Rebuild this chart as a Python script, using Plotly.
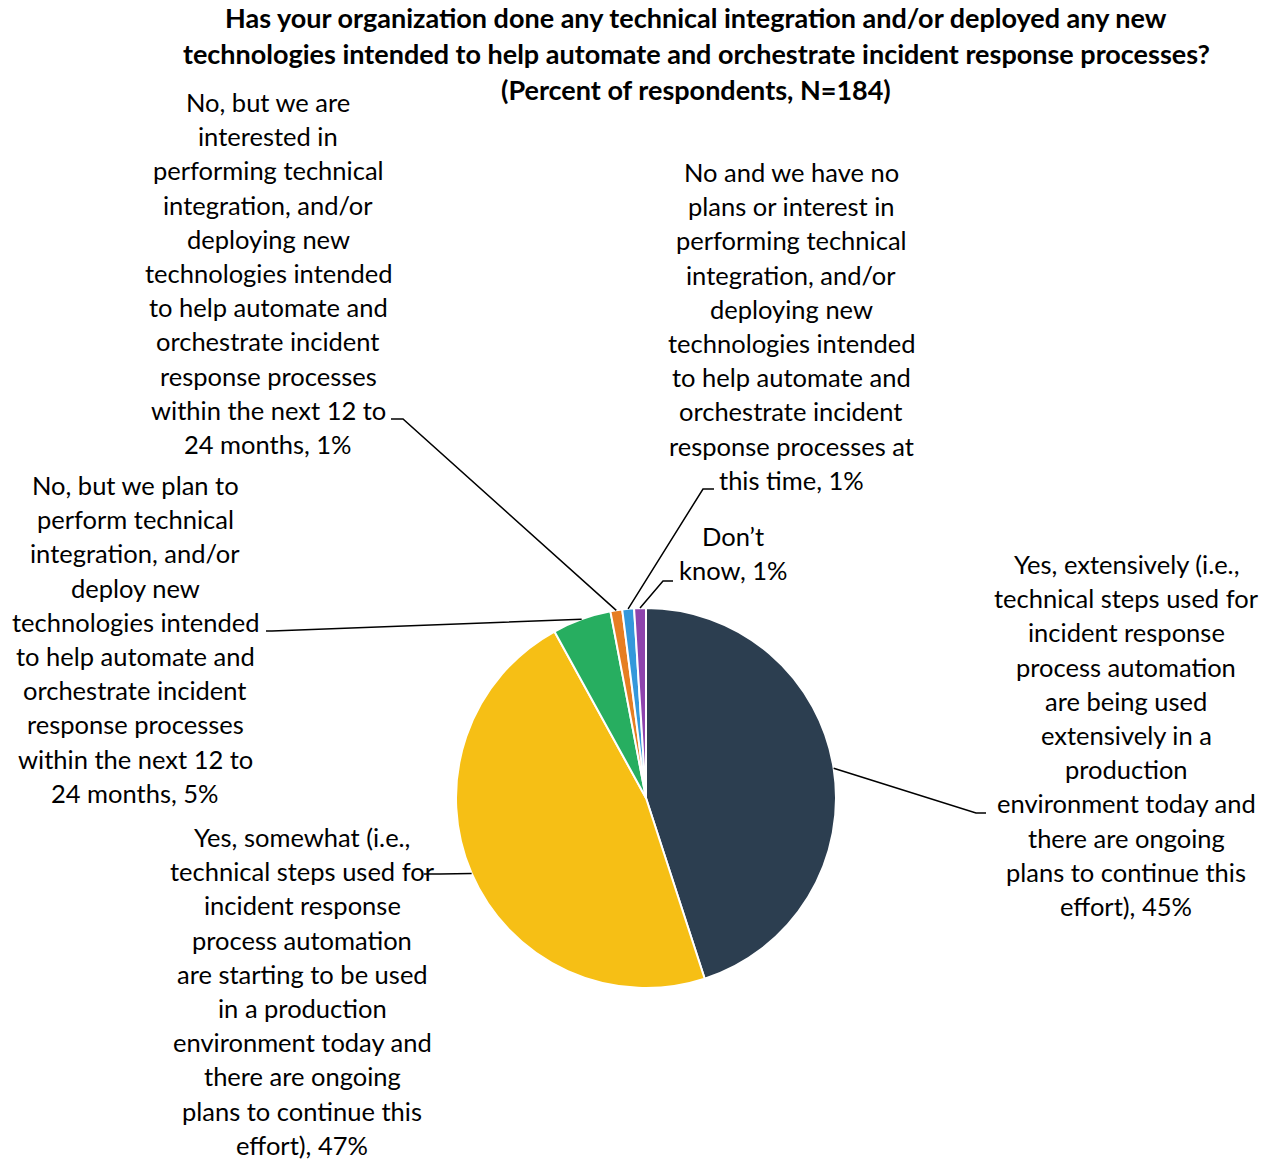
import math
import plotly.graph_objects as go

W, H = 1265, 1160

# Survey responses, in pie order (clockwise from 12 o'clock)
categories = [
    "Yes, extensively",
    "Yes, somewhat",
    "No, but we plan to",
    "No, but we are interested in",
    "No and we have no plans",
    "Don't know",
]
values = [45, 47, 5, 1, 1, 1]
colors = ["#2C3E50", "#F6BF15", "#27AE60", "#E67E22", "#3498DB", "#8E44AD"]

label_lines = [
    ["Yes, extensively (i.e.,", "technical steps used for", "incident response",
     "process automation", "are being used", "extensively in a", "production",
     "environment today and", "there are ongoing", "plans to continue this",
     "effort), 45%"],
    ["Yes, somewhat (i.e.,", "technical steps used for", "incident response",
     "process automation", "are starting to be used", "in a production",
     "environment today and", "there are ongoing", "plans to continue this",
     "effort), 47%"],
    ["No, but we plan to", "perform technical", "integration, and/or",
     "deploy new", "technologies intended", "to help automate and",
     "orchestrate incident", "response processes", "within the next 12 to",
     "24 months, 5%"],
    ["No, but we are", "interested in", "performing technical",
     "integration, and/or", "deploying new", "technologies intended",
     "to help automate and", "orchestrate incident", "response processes",
     "within the next 12 to", "24 months, 1%"],
    ["No and we have no", "plans or interest in", "performing technical",
     "integration, and/or", "deploying new", "technologies intended",
     "to help automate and", "orchestrate incident", "response processes at",
     "this time, 1%"],
    ["Don\u2019t", "know, 1%"],
]

title_lines = [
    "Has your organization done any technical integration and/or deployed any new",
    "technologies intended to help automate and orchestrate incident response processes?",
    "(Percent of respondents, N=184)",
]

# ---- layout constants (pixels) ----
FONT = "Lato"
LABEL_SIZE = 25.5
TITLE_SIZE = 27
CX, CY, R = 646, 798, 190
LINE_STEP = 34.2
# label block: centre x, first-line y
label_pos = [(1126, 564), (302, 837), (135, 485), (268, 102), (791, 172), (733, 536)]
# leader line elbow and end points
elbows = [((976, 813), (986, 813)),
          ((440, 874), (424, 874)),
          ((272, 631), (266, 631)),
          ((403, 419), (391, 419)),
          ((703, 489), (714, 489)),
          ((663, 581), (673, 581))]


def px(x):
    return x / W


def py(y):
    return 1 - y / H


fig = go.Figure(go.Pie(
    labels=categories,
    values=values,
    sort=False,
    direction="clockwise",
    rotation=0,
    marker=dict(colors=colors, line=dict(color="white", width=2)),
    textinfo="none",
    hoverinfo="label+percent",
    showlegend=False,
    domain=dict(x=[px(CX - R), px(CX + R)], y=[py(CY + R), py(CY - R)]),
))

annotations = []
shapes = []

# title
for i, t in enumerate(title_lines):
    annotations.append(dict(
        text="<b>" + t + "</b>", x=px(696), y=py(18 + i * 35.5),
        xref="paper", yref="paper", xanchor="center", yanchor="middle",
        showarrow=False, font=dict(family=FONT, size=TITLE_SIZE, color="#000000"),
    ))

total = sum(values)
cum = 0
for k, v in enumerate(values):
    mid = (cum + v / 2) / total * 2 * math.pi
    cum += v
    sx = CX + R * math.sin(mid)
    sy = CY - R * math.cos(mid)
    (ex, ey), (tx, ty) = elbows[k]
    shapes.append(dict(type="path", xref="paper", yref="paper",
                       path=f"M {px(sx)} {py(sy)} L {px(ex)} {py(ey)} L {px(tx)} {py(ty)}",
                       line=dict(color="#000000", width=1.5)))
    lx, ly = label_pos[k]
    for j, line in enumerate(label_lines[k]):
        annotations.append(dict(
            text=line, x=px(lx), y=py(ly + j * LINE_STEP),
            xref="paper", yref="paper", xanchor="center", yanchor="middle",
            showarrow=False, font=dict(family=FONT, size=LABEL_SIZE, color="#000000"),
        ))

fig.update_layout(
    width=W, height=H,
    margin=dict(l=0, r=0, t=0, b=0),
    paper_bgcolor="white",
    plot_bgcolor="white",
    annotations=annotations,
    shapes=shapes,
)

fig.write_html("out.html")
